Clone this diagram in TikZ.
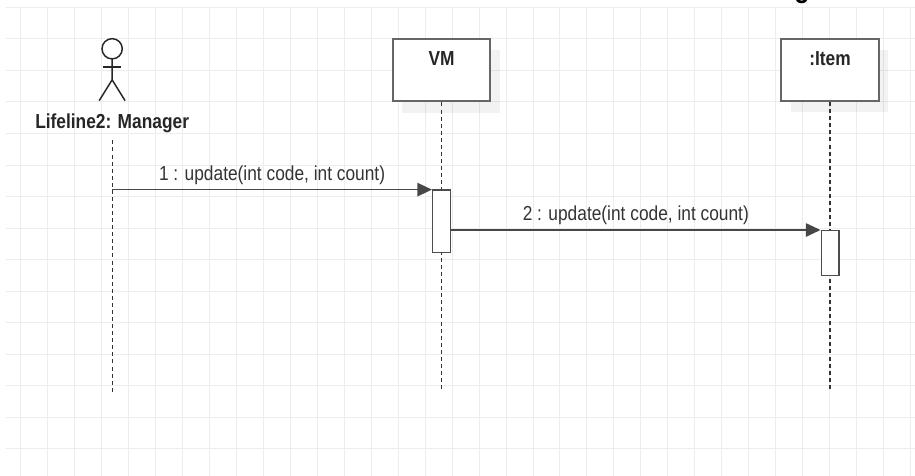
\documentclass[tikz,border=0pt]{standalone}
\usepackage{fontspec}
\setmainfont{Liberation Sans}[FakeStretch=0.855]
\usetikzlibrary{arrows.meta,shadows}

\tikzset{
  gridline/.style={draw=black!7, line width=0.75pt},
  actorline/.style={draw=black!85, line width=1.1pt},
  lifebox/.style={draw=black!60, line width=1.5pt, fill=white,
    minimum width=73pt, inner xsep=0pt, inner ysep=9pt,
    text height=11pt, text depth=17.7pt, text=black!85,
    font=\bfseries\fontsize{15.2}{18}\selectfont,
    drop shadow={shadow xshift=7pt, shadow yshift=-8.3pt, fill=black, opacity=0.05}},
  actbox/.style={draw=black!70, line width=1pt, fill=white,
    minimum width=13.3pt, inner sep=0pt, anchor=north},
  lifeline/.style={draw=black!80, line width=0.9pt, dash pattern=on 3pt off 2.3pt},
  msg/.style={draw=black!72, line width=1.3pt, -{Triangle[length=11pt,width=10pt]}},
  msglabel/.style={font=\fontsize{15.2}{18}\selectfont, text=black!80,
    anchor=base, yshift=7.1pt, inner sep=0pt},
}

\begin{document}
\begin{tikzpicture}[x=2.0235pt, y=-2.366pt]
    \useasboundingbox[fill=white] (-7.56,-2.31) rectangle (331.58,148.56);
    % grid
    \foreach \i in {0,10,...,330}
        \draw[gridline] (\i,0) -- (\i,148.56);
    \foreach \j in {0,10,...,140}
        \draw[gridline] (-5.34,\j) -- (331.58,\j);
    \node[font=\bfseries\fontsize{22}{26}\selectfont, anchor=base, inner sep=0pt] (title) at (289.7,-3.2) {g};
    % actor
    \draw[actorline] (34,13.15) circle (7.6pt);
    \draw[actorline] (34,16.4) -- (34,23.0) -- (29.2,29.6);
    \draw[actorline] (34,23.0) -- (38.8,29.6);
    \draw[actorline] (30.55,19.0) -- (37.45,19.0);
    \node[font=\bfseries\fontsize{15.2}{18}\selectfont, text=black!85, anchor=base,
        inner xsep=0pt, inner ysep=5.6pt, text depth=3.2pt] (mgr) at (34,38.4) {Lifeline2: Manager};
    % lifelines
    \node[lifebox, anchor=north] (vm) at (156.1,9.8) {VM};
    \node[lifebox, anchor=north] (item) at (300.1,9.7) {:Item};
    \coordinate (mgrend) at (34,121.8);
    \coordinate (vmend) at (156.1,121.3);
    \coordinate (itemend) at (300.1,121.3);
    \draw[lifeline] (mgr.south) -- (mgrend);
    \draw[lifeline] (vm.south) -- (vmend);
    \draw[lifeline] (item.south) -- (itemend);
    % activations
    \node[actbox, minimum height=46.8pt] (vmact) at (156.1,57.7) {};
    \node[actbox, minimum height=33.8pt] (itemact) at (300.1,70.6) {};
    % messages
    \coordinate (m1) at (34,57.8);
    \draw[msg] (m1) -- (m1 -| vmact.west)
        node[msglabel, pos=0.5] (m1label) {1 : update(int code, int count)};
    \draw[msg] (vmact.east |- itemact.north) -- (itemact.north west)
        node[msglabel, pos=0.5] (m2label) {2 : update(int code, int count)};
\end{tikzpicture}
\end{document}
